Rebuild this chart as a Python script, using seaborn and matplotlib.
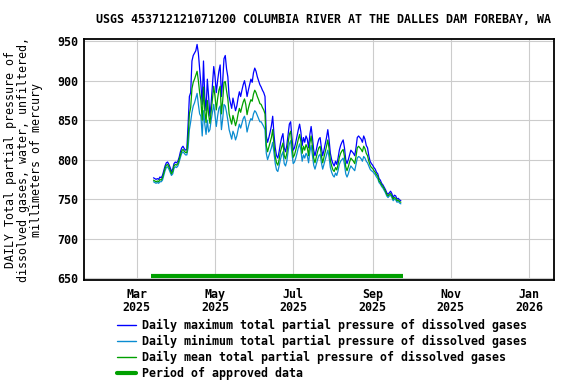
import pandas as pd
import numpy as np
import seaborn as sns
import matplotlib.pyplot as plt
import matplotlib.dates as mdates

# Daily values, starting 2025-03-14
start_date = "2025-03-14"
daily_max = [777, 776, 775, 776, 775, 778, 777, 780, 786,
             792, 796, 797, 794, 790, 785, 788,
             795, 797, 796, 798, 803, 810, 815, 817, 814, 812,
             813, 845, 880, 885, 925, 932, 935, 938, 946, 935, 915, 895, 870, 925,
             880, 862, 902, 880, 855, 872, 895, 918, 905, 885, 900, 912, 920, 880,
             900, 928, 932, 915, 905, 880, 872, 865, 878, 870, 862, 868, 878, 886,
             880, 888, 895, 900, 892, 880, 888, 895, 902, 898, 910, 916, 912, 905,
             900, 895, 892, 888, 885, 880, 830, 822, 828, 835, 843, 855, 832, 815,
             805, 802, 810, 820, 828, 833, 815, 810, 818, 832, 845, 848, 828, 812,
             815, 822, 830, 838, 845, 835, 818, 828, 822, 830, 826, 815, 832, 842,
             828, 812, 805, 812, 820, 826, 828, 815, 805, 812, 820, 828, 838, 825,
             808, 800, 795, 792, 798, 794, 802, 812, 818, 822, 825, 815, 800, 795,
             800, 806, 812, 810, 808, 805, 815, 828, 830, 828, 826, 822, 830, 826,
             818, 815, 805, 798, 795, 793, 790, 788, 784, 782, 776, 774, 770, 768,
             765, 762, 758, 756, 758, 760, 757, 752, 755, 754, 750, 751, 749, 748]
daily_min = [772, 771, 770, 771, 770, 772, 772, 774, 780,
             786, 790, 791, 788, 784, 780, 782,
             789, 791, 790, 792, 797, 803, 808, 810, 808, 806,
             806, 815, 838, 848, 860, 868, 872, 878, 884, 870, 858, 855, 830, 862,
             845, 832, 850, 835, 838, 850, 860, 870, 856, 842, 855, 865, 868, 838,
             852, 870, 868, 860, 850, 838, 832, 826, 836, 832, 825, 830, 838, 845,
             840, 846, 852, 855, 848, 835, 842, 848, 852, 850, 858, 862, 860, 856,
             852, 848, 848, 845, 842, 838, 808, 800, 805, 810, 815, 822, 808, 795,
             787, 785, 792, 800, 806, 810, 795, 792, 798, 810, 820, 824, 808, 795,
             797, 802, 808, 815, 820, 812, 798, 806, 802, 808, 805, 796, 810, 818,
             806, 793, 788, 794, 800, 805, 807, 796, 788, 794, 800, 806, 812, 803,
             790, 784, 780, 778, 783, 780, 786, 794, 798, 800, 802, 794, 782, 778,
             782, 788, 792, 790, 788, 786, 794, 802, 804, 803, 801, 798, 804, 802,
             798, 796, 792, 788, 786, 785, 783, 781, 778, 776, 771, 769, 766, 764,
             761, 758, 754, 752, 754, 755, 752, 748, 750, 749, 746, 747, 745, 744]
daily_mean = [774, 773, 772, 773, 772, 775, 774, 777, 783,
              789, 793, 794, 791, 787, 782, 785,
              792, 794, 793, 795, 800, 806, 811, 813, 811, 809,
              809, 828, 858, 866, 890, 898, 902, 907, 912, 900, 885, 875, 850, 892,
              862, 847, 875, 857, 846, 861, 877, 893, 880, 863, 877, 888, 893, 858,
              875, 898, 899, 887, 877, 858, 851, 845, 856, 850, 843, 849, 858, 865,
              860, 867, 873, 877, 870, 857, 865, 871, 876, 874, 883, 888, 885, 880,
              876, 871, 870, 866, 863, 858, 818, 810, 816, 822, 828, 838, 819, 804,
              796, 793, 800, 810, 816, 821, 805, 801, 808, 821, 832, 836, 818, 803,
              806, 812, 819, 826, 832, 823, 808, 817, 812, 819, 815, 805, 821, 830,
              817, 802, 796, 803, 810, 815, 817, 805, 796, 803, 810, 817, 825, 814,
              799, 792, 787, 785, 790, 787, 794, 803, 808, 811, 813, 804, 791, 786,
              791, 797, 802, 800, 798, 795, 804, 815, 817, 815, 813, 810, 817, 814,
              808, 805, 798, 793, 790, 789, 786, 784, 781, 779, 773, 771, 768, 766,
              763, 760, 756, 754, 756, 757, 754, 750, 752, 751, 748, 749, 747, 746]

approved_dates = ["2025-03-12", "2025-09-25"]
approved_level = 652

labels = ["Daily maximum total partial pressure of dissolved gases",
          "Daily minimum total partial pressure of dissolved gases",
          "Daily mean total partial pressure of dissolved gases"]
colors = ["#0000ff", "#0a8cd1", "#00a000"]
yticks = [650, 700, 750, 800, 850, 900, 950]

dates = pd.date_range(start_date, periods=len(daily_max), freq="D")
df = pd.DataFrame({"date": dates, labels[0]: daily_max,
                   labels[1]: daily_min, labels[2]: daily_mean})
long = df.melt(id_vars="date", var_name="series", value_name="value")

sns.set_style("whitegrid", {"grid.color": "#cccccc", "axes.edgecolor": "black"})
plt.rcParams['font.family'] = ['DejaVu Sans Mono']
plt.rcParams['font.weight'] = 'bold'
plt.rcParams['font.size'] = 8.4
for key in ['text.color', 'axes.labelcolor', 'xtick.color', 'ytick.color']:
    plt.rcParams[key] = 'black'

fig = plt.figure(figsize=(5.76, 3.84), dpi=100)
ax = fig.add_axes([84.3/576, 1-280/384, (554-84.3)/576, (280-39.3)/384])

sns.lineplot(data=long, x="date", y="value", hue="series", hue_order=labels,
             palette=dict(zip(labels, colors)), linewidth=0.9, ax=ax, legend=False)
ax.plot(pd.to_datetime(approved_dates), [approved_level]*2, color="#00a000",
        linewidth=3, solid_capstyle="butt")

ax.set_xlim(pd.Timestamp("2025-01-19"), pd.Timestamp("2026-01-20 12:00"))
ax.set_ylim(647.5, 952.5)
ax.set_yticks(yticks)
ax.xaxis.set_major_locator(mdates.MonthLocator(bymonth=[1, 3, 5, 7, 9, 11]))
ax.xaxis.set_major_formatter(mdates.DateFormatter("%b\n%Y"))
ax.tick_params(length=0)
ax.tick_params(axis='x', pad=6)
ax.tick_params(axis='y', pad=4)
for s in ax.spines.values():
    s.set_linewidth(1.3)
    s.set_color("black")
ax.set_xlabel("")
ax.set_ylabel("DAILY Total partial pressure of\ndissolved gases, water, unfiltered,\nmillimeters of mercury",
              linespacing=1.0)
ax.yaxis.set_label_coords(-0.088, 0.5)
ax.set_title("USGS 453712121071200 COLUMBIA RIVER AT THE DALLES DAM FOREBAY, WA",
             pad=12, x=0.51, fontsize=8.4, fontweight='bold')

handles = [plt.Line2D([], [], color=c, linewidth=1) for c in colors]
handles.append(plt.Line2D([], [], color="#00a000", linewidth=3))
fig.legend(handles, labels + ["Period of approved data"], loc="upper left",
           bbox_to_anchor=(117/576, 1-319/384), frameon=False,
           handlelength=1.6, handletextpad=0.5, labelspacing=0.25,
           borderaxespad=0, borderpad=0)

fig.canvas.draw()
plt.setp(ax.get_xticklabels(), linespacing=1.0)

fig.savefig("out.png", dpi=100)
